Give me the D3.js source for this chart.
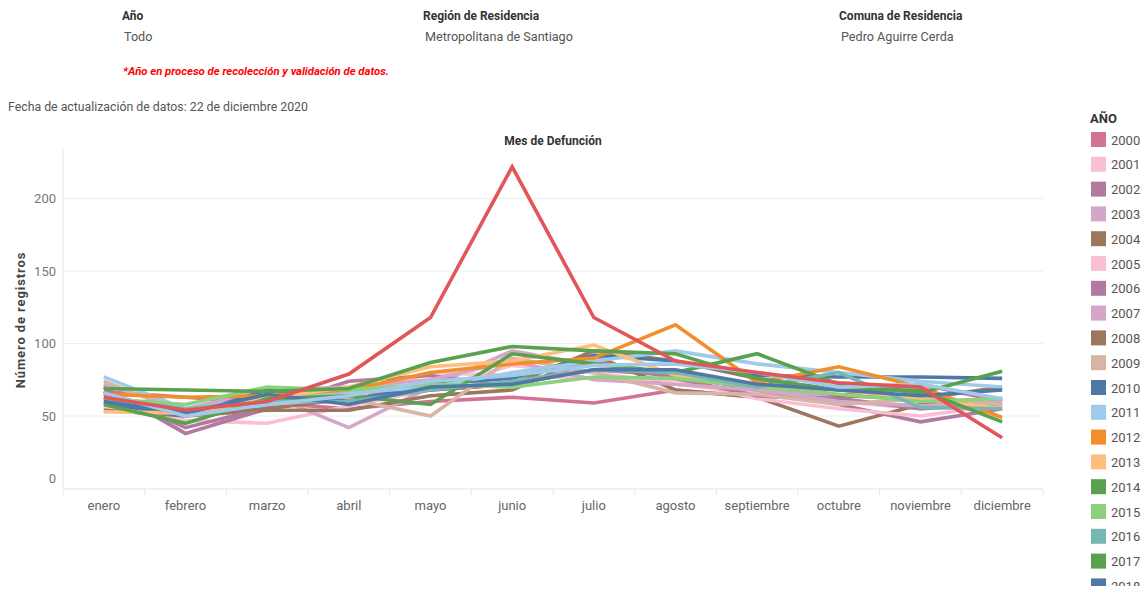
<!DOCTYPE html>
<html>
<head>
<meta charset="utf-8">
<script src="https://cdn.jsdelivr.net/npm/d3@7"></script>
<style>
  html, body { margin: 0; padding: 0; background: #fff; }
  svg { display: block; }
  text { font-family: "Roboto", "Liberation Sans", sans-serif; }
</style>
</head>
<body>
<svg id="chart" width="1142" height="590"></svg>
<script>
// Monthly death records, Pedro Aguirre Cerda, by year
const months = ["enero", "febrero", "marzo", "abril", "mayo", "junio", "julio",
                "agosto", "septiembre", "octubre", "noviembre", "diciembre"];
const years = ["2000", "2001", "2002", "2003", "2004", "2005", "2006", "2007", "2008", "2009",
               "2010", "2011", "2012", "2013", "2014", "2015", "2016", "2017", "2018", "2019", "2020"];
const yearColors = ["#D37295", "#FABFD2", "#B07AA1", "#D4A6C8", "#9D7660", "#FABFD2", "#B07AA1",
                    "#D4A6C8", "#9D7660", "#D7B5A6", "#4E79A7", "#A0CBE8", "#F28E2B", "#FFBE7D",
                    "#59A14F", "#8CD17D", "#76B7B2", "#59A14F", "#4E79A7", "#A0CBE8", "#E15759"];
const values = [
  [67, 63, 59, 55, 60, 63, 59, 68, 63, 64, 72, 60],   // 2000
  [56, 47, 45, 57, 68, 85, 80, 72, 66, 60, 55, 62],   // 2001
  [70, 38, 55, 65, 68, 72, 82, 78, 68, 58, 46, 55],   // 2002
  [62, 52, 65, 42, 70, 95, 85, 80, 70, 62, 55, 62],   // 2003
  [54, 50, 54, 54, 64, 68, 92, 68, 63, 43, 58, 62],   // 2004
  [60, 52, 60, 62, 80, 78, 76, 75, 62, 55, 50, 58],   // 2005
  [67, 42, 56, 74, 78, 70, 88, 76, 64, 62, 55, 58],   // 2006
  [72, 55, 68, 70, 75, 88, 75, 72, 68, 60, 57, 60],   // 2007
  [65, 52, 55, 62, 68, 72, 95, 88, 76, 64, 62, 70],   // 2008
  [74, 52, 58, 62, 50, 90, 80, 66, 65, 58, 62, 58],   // 2009
  [59, 50, 68, 60, 72, 76, 92, 88, 78, 77, 77, 76],   // 2010
  [77, 55, 62, 66, 70, 80, 88, 95, 86, 80, 74, 70],   // 2011
  [65, 63, 64, 68, 80, 86, 90, 113, 73, 84, 70, 49],  // 2012
  [53, 52, 62, 70, 84, 88, 99, 78, 70, 68, 62, 55],   // 2013
  [58, 45, 62, 64, 58, 93, 86, 80, 93, 72, 66, 81],   // 2014
  [62, 58, 70, 68, 72, 70, 77, 76, 70, 65, 60, 62],   // 2015
  [62, 55, 60, 60, 68, 74, 82, 80, 70, 80, 56, 55],   // 2016
  [69, 68, 67, 69, 87, 98, 95, 93, 76, 68, 68, 46],   // 2017
  [60, 52, 65, 58, 70, 72, 82, 82, 72, 68, 64, 68],   // 2018
  [66, 50, 58, 64, 74, 78, 85, 86, 80, 70, 72, 62],   // 2019
  [63, 54, 60, 79, 118, 222, 118, 88, 80, 73, 70, 35] // 2020
];
const yTicks = [0, 50, 100, 150, 200];

const svg = d3.select("#chart");

// ---- header filters ----
const header = svg.append("g").attr("fill", "#333");
[
  { x: 122, label: "Año", value: "Todo" },
  { x: 423, label: "Región de Residencia", value: "Metropolitana de Santiago" },
  { x: 839, label: "Comuna de Residencia", value: "Pedro Aguirre Cerda" }
].forEach(f => {
  header.append("text").attr("x", f.x).attr("y", 20).attr("font-weight", "bold")
    .style("font-size", "12px").text(f.label);
  header.append("text").attr("x", f.x + 2).attr("y", 41).attr("fill", "#555")
    .style("font-size", "12.6px").text(f.value);
});
svg.append("text").attr("x", 123).attr("y", 75)
  .attr("fill", "#ff0000").attr("font-style", "italic").attr("font-weight", "bold")
  .style("font-size", "11.3px")
  .text("*Año en proceso de recolección y validación de datos.");
svg.append("text").attr("x", 8).attr("y", 111)
  .attr("fill", "#555").style("font-size", "12.3px")
  .text("Fecha  de actualización de datos: 22 de diciembre 2020");

// ---- plot area ----
const plotLeft = 63, plotRight = 1043, plotTop = 148, plotBottom = 488.5;
const x = d3.scaleBand().domain(months).range([plotLeft, plotRight]);
const y = d3.scaleLinear().domain([0, 235]).range([plotBottom, plotTop]);

// gridlines
svg.append("g").selectAll("line").data(yTicks).join("line")
  .attr("x1", plotLeft).attr("x2", plotRight)
  .attr("y1", d => y(d)).attr("y2", d => y(d))
  .attr("stroke", "#eeeeee").attr("stroke-width", 1);

// vertical axis line
svg.append("line").attr("x1", plotLeft).attr("x2", plotLeft)
  .attr("y1", plotTop).attr("y2", plotBottom)
  .attr("stroke", "#e6e6e6");

// y axis labels
const yAxis = svg.append("g").attr("transform", `translate(${plotLeft},0)`)
  .call(d3.axisLeft(y).tickValues(yTicks).tickSize(0).tickPadding(7));
yAxis.select(".domain").remove();
yAxis.selectAll("text").attr("fill", "#777").style("font-size", "13px")
  .style("font-family", "Roboto, sans-serif")
  .attr("dy", d => d === 0 ? "-0.45em" : "0.32em");

// x axis: band separators and month labels
const xAxis = svg.append("g").attr("transform", `translate(0,${plotBottom})`)
  .call(d3.axisBottom(x).tickSize(0).tickPadding(12));
xAxis.select(".domain").attr("stroke", "#eeeeee");
xAxis.selectAll("text").attr("fill", "#666").style("font-size", "13px")
  .style("font-family", "Roboto, sans-serif");
svg.append("g").selectAll("line").data(d3.range(months.length + 1)).join("line")
  .attr("x1", i => plotLeft + i * x.bandwidth()).attr("x2", i => plotLeft + i * x.bandwidth())
  .attr("y1", plotBottom + 1).attr("y2", plotBottom + 7)
  .attr("stroke", "#e8e8e8");

// chart title and y title
svg.append("text").attr("x", 553).attr("y", 145).attr("text-anchor", "middle")
  .attr("font-weight", "bold").attr("fill", "#333").style("font-size", "12px")
  .text("Mes de Defunción");
svg.append("text").attr("transform", "translate(25,320) rotate(-90)")
  .attr("text-anchor", "middle").attr("font-weight", "bold").attr("fill", "#444")
  .style("font-size", "13px").style("letter-spacing", "0.9px")
  .text("Número de registros");

// ---- series lines ----
const line = d3.line()
  .x((d, i) => x(months[i]) + x.bandwidth() / 2)
  .y(d => y(d));
svg.append("g").selectAll("path").data(values).join("path")
  .attr("d", line)
  .attr("fill", "none")
  .attr("stroke", (d, i) => yearColors[i])
  .attr("stroke-width", 3.6)
  .attr("stroke-linejoin", "miter");

// ---- legend (scrolling list, cut at the bottom edge) ----
svg.append("defs").append("clipPath").attr("id", "legend-clip")
  .append("rect").attr("x", 1080).attr("y", 100).attr("width", 62).attr("height", 486);
svg.append("text").attr("x", 1090).attr("y", 123).attr("font-weight", "bold")
  .attr("fill", "#333").style("font-size", "13px").text("AÑO");
const legend = svg.append("g").attr("clip-path", "url(#legend-clip)");
const items = legend.selectAll("g").data(years).join("g")
  .attr("transform", (d, i) => `translate(1091,${132 + i * 24.8})`);
items.append("rect").attr("width", 15).attr("height", 15)
  .attr("fill", (d, i) => yearColors[i]);
items.append("text").attr("x", 20).attr("y", 12.5).attr("fill", "#555")
  .style("font-size", "13px").text(d => d);
</script>
</body>
</html>
